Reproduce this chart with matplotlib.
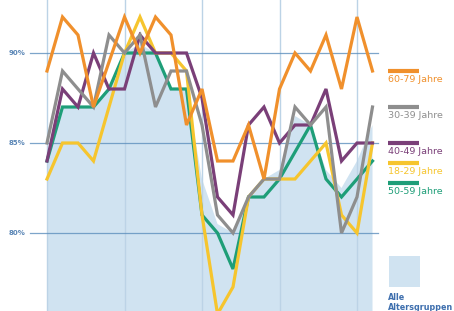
import matplotlib

matplotlib.use("Agg")
import matplotlib.pyplot as plt
import numpy as np

# values per period (percent)
periods = np.arange(22)
orange_60_79 = [89, 92, 91, 87, 89.5, 92, 90, 92, 91, 86, 88, 84, 84, 86, 83, 88, 90, 89, 91, 88, 92, 89]
gray_30_39 = [85, 89, 88, 87, 91, 90, 91, 87, 89, 89, 86, 81, 80, 82, 83, 83, 87, 86, 87, 80, 82, 87]
purple_40_49 = [84, 88, 87, 90, 88, 88, 91, 90, 90, 90, 87.5, 82, 81, 86, 87, 85, 86, 86, 88, 84, 85, 85]
yellow_18_29 = [83, 85, 85, 84, 87, 90, 92, 90, 90, 89, 81, 75.5, 77, 82, 83, 83, 83, 84, 85, 81, 80, 85]
teal_50_59 = [84, 87, 87, 87, 88, 90, 90, 90, 88, 88, 81, 80, 78, 82, 82, 83, 84.5, 86, 83, 82, 83, 84]
alle = [84, 87, 87, 87, 88, 90, 90.5, 90, 88, 88, 83, 80.5, 80, 82, 83, 83.5, 86.5, 86, 83.5, 82.5, 84, 86]

y_ticks = [90, 85, 80]
y_tick_labels = ["90%", "85%", "80%"]
v_grid = [0, 5, 10, 15, 20]

ORANGE = "#f0902c"
GRAY = "#8e8e8e"
PURPLE = "#7a3f78"
YELLOW = "#f6c52e"
TEAL = "#1e9e78"
FILL = "#d0e3f1"
HGRID = "#5d8fbd"
VGRID = "#bcd3e6"
LABEL = "#5a86b6"
ALLE = "#3e6fae"

W, H = 454, 311
fig = plt.figure(figsize=(W / 100, H / 100), dpi=100)
ax = fig.add_axes([0, 0, 1, 1])
ax.set_axis_off()

# pixel mapping: x = 47 + 15.5*i, y(90%) = 53, 18 px per percent
x0, dx = 47.0, 15.5
ax.set_xlim(-x0 / dx, (W - x0) / dx)
ax.set_ylim(90 - (H - 53) / 18.0, 90 + 53 / 18.0)

ax.fill_between(periods, 70, alle, color=FILL, linewidth=0, zorder=1)

for v in v_grid:
    ax.axvline(v, color=VGRID, linewidth=1.0, zorder=2)
for t, lab in zip(y_ticks, y_tick_labels):
    ax.plot([(30 - x0) / dx, (378 - x0) / dx], [t, t], color=HGRID, linewidth=0.9, alpha=0.8, zorder=2)
    ax.text(17 / W, 1 - (53 + (90 - t) * 18) / H, lab, transform=ax.transAxes,
            ha="center", va="center", fontsize=5, color=LABEL, fontweight="bold")

series = [
    (teal_50_59, TEAL),
    (yellow_18_29, YELLOW),
    (purple_40_49, PURPLE),
    (gray_30_39, GRAY),
    (orange_60_79, ORANGE),
]
for values, color in series:
    ax.plot(periods, values, color=color, linewidth=2.3, solid_joinstyle="miter", zorder=3)

legend = [
    ("60-79 Jahre", ORANGE, 71, 79),
    ("30-39 Jahre", GRAY, 107, 115),
    ("40-49 Jahre", PURPLE, 143, 151),
    ("18-29 Jahre", YELLOW, 163, 172),
    ("50-59 Jahre", TEAL, 183, 191),
]
for label, color, ly, ty in legend:
    ax.plot([388 / W, 419 / W], [1 - ly / H, 1 - ly / H], transform=ax.transAxes,
            color=color, linewidth=3, solid_capstyle="butt")
    ax.text(388 / W, 1 - ty / H, label, transform=ax.transAxes, ha="left", va="center",
            fontsize=6.8, color=color)

ax.add_patch(plt.Rectangle((389 / W, 1 - 287 / H), 31 / W, 31 / H, transform=ax.transAxes,
                           color=FILL, linewidth=0))
ax.text(388 / W, 1 - 297 / H, "Alle", transform=ax.transAxes, ha="left", va="center",
        fontsize=5.8, color=ALLE, fontweight="bold")
ax.text(388 / W, 1 - 308 / H, "Altersgruppen", transform=ax.transAxes, ha="left", va="center",
        fontsize=5.8, color=ALLE, fontweight="bold")

fig.savefig("out.png", dpi=100)
plt.close(fig)
